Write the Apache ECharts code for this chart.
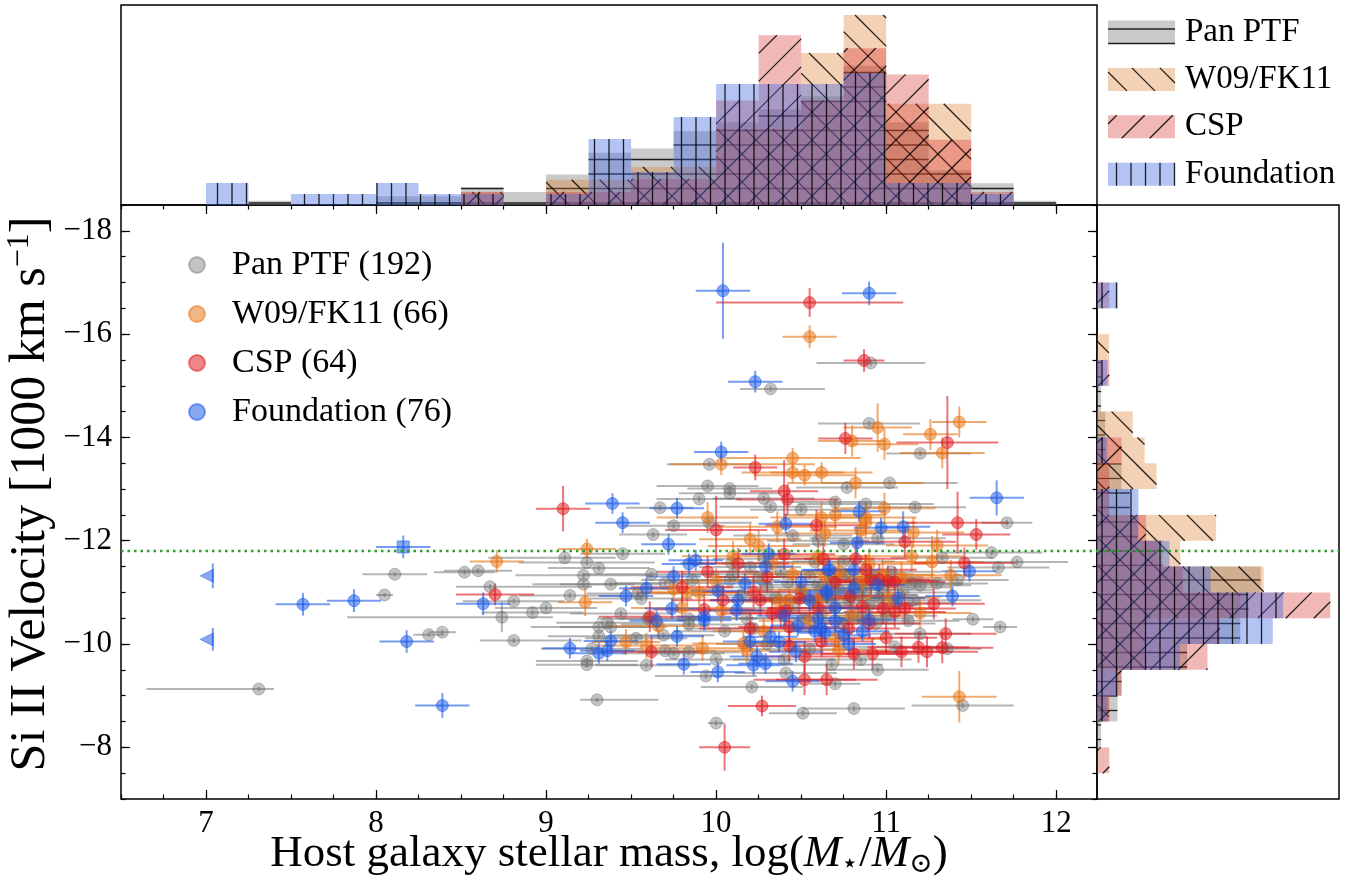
<!DOCTYPE html>
<html>
<head>
<meta charset="utf-8">
<script src="https://cdn.jsdelivr.net/npm/echarts@6/dist/echarts.min.js"></script>
<style>
  html, body { margin: 0; padding: 0; background: #fff; }
  #chart { width: 1354px; height: 877px; }
</style>
</head>
<body>
<div id="chart"></div>
<script>
// ---- data ----
var xMajor = [7, 8, 9, 10, 11, 12];
var yMajor = [-18, -16, -14, -12, -10, -8];
var velThreshold = -11.8;

// mass histogram: left edges of 0.25-wide bins, counts per survey
var massBinLo = [7.0, 7.25, 7.5, 7.75, 8.0, 8.25, 8.5, 8.75, 9.0, 9.25, 9.5, 9.75, 10.0, 10.25, 10.5, 10.75, 11.0, 11.25, 11.5, 11.75];
var massPan = [0, 1, 0, 0, 2, 2, 4, 3, 7, 12, 13, 17, 19, 22, 25, 32, 19, 8, 5, 1];
var massW09 = [0, 0, 0, 0, 0, 0, 1, 0, 2, 2, 3, 3, 6, 6, 12, 15, 8, 8, 0, 0];
var massCsp = [0, 0, 0, 0, 0, 0, 1, 0, 1, 1, 2, 2, 8, 13, 8, 12, 10, 5, 1, 0];
var massFnd = [2, 0, 1, 1, 2, 1, 1, 0, 1, 6, 3, 8, 11, 11, 11, 12, 2, 2, 1, 0];

// velocity histogram: left edges of 0.5-wide bins (1000 km/s)
var velBinLo = [-17.5, -17.0, -16.5, -16.0, -15.5, -15.0, -14.5, -14.0, -13.5, -13.0, -12.5, -12.0, -11.5, -11.0, -10.5, -10.0, -9.5, -9.0, -8.5, -8.0];
var velPan = [0, 0, 0, 0, 1, 1, 2, 2, 6, 8, 10, 16, 40, 37, 35, 22, 6, 5, 1, 0];
var velW09 = [0, 0, 0, 1, 0, 0, 3, 4, 5, 1, 10, 7, 14, 12, 4, 4, 0, 1, 0, 0];
var velCsp = [0, 1, 0, 0, 1, 0, 0, 2, 1, 1, 4, 5, 7, 19, 10, 9, 2, 1, 0, 1];
var velFnd = [0, 2, 0, 0, 1, 0, 0, 1, 0, 4, 4, 7, 11, 18, 17, 8, 2, 1, 0, 0];

var nPan = 192, nW09 = 66, nCsp = 64, nFnd = 76;

// scatter rows: [logM, v, xerr-, xerr+, verr]
var panPTF = [
  [7.31,-9.13,0.66,0.09,0.04],[8.11,-11.35,0.19,0.19,0.04],[8.05,-10.95,0.05,0.05,0.04],[8.31,-10.18,0.09,0.09,0.04],
  [8.39,-10.23,0.08,0.08,0.04],[8.52,-11.39,0.18,0.18,0.05],[8.60,-11.42,0.2,0.2,0.05],[8.67,-11.11,0.2,0.6,0.05],
  [8.81,-10.83,0.3,0.3,0.05],[8.92,-10.61,0.3,0.3,0.05],[8.74,-10.52,0.91,0.3,0.29],[8.81,-10.07,0.2,0.4,0.05],
  [9.30,-8.92,0.10,0.36,0.04],[9.96,-13.48,0.25,0.25,0.05],[9.95,-13.06,0.3,0.3,0.05],[10.08,-13.01,0.25,0.25,0.05],
  [10.08,-12.92,0.3,0.3,0.05],[9.90,-12.81,0.25,0.25,0.05],[10.28,-12.82,0.3,0.3,0.05],[10.32,-12.66,0.3,0.3,0.05],
  [9.67,-12.64,0.2,0.2,0.05],[9.75,-12.29,0.3,0.3,0.05],[9.63,-12.12,0.2,0.2,0.05],[9.96,-12.35,0.25,0.25,0.05],
  [9.11,-11.67,0.45,0.3,0.05],[9.45,-11.75,0.25,0.25,0.05],[9.24,-11.58,0.4,0.4,0.05],[9.31,-11.47,0.3,0.3,0.05],
  [9.22,-11.33,0.4,0.4,0.05],[9.22,-11.16,0.3,0.3,0.05],[9.38,-11.16,0.3,0.3,0.05],[9.62,-11.35,0.4,0.4,0.05],
  [9.14,-10.94,0.3,0.3,0.05],[9.00,-10.70,0.3,0.3,0.05],[9.44,-10.59,0.3,0.3,0.05],[9.54,-10.98,0.3,0.3,0.05],
  [9.56,-10.88,0.3,0.3,0.05],[9.70,-11.18,0.3,0.3,0.05],[9.86,-11.24,0.3,0.3,0.05],[9.84,-10.49,0.4,0.4,0.05],
  [9.84,-10.38,0.4,0.4,0.05],[9.60,-10.49,0.3,0.3,0.05],[9.69,-10.17,0.3,0.3,0.05],[9.31,-10.33,0.4,0.4,0.05],
  [9.36,-10.41,0.3,0.3,0.05],[9.38,-10.33,0.3,0.3,0.05],[9.31,-10.15,0.3,0.3,0.05],[9.53,-10.11,0.3,0.3,0.05],
  [9.27,-9.91,0.3,0.3,0.05],[9.24,-9.67,0.3,0.3,0.05],[9.24,-9.60,0.3,0.3,0.05],[9.59,-9.59,0.3,0.3,0.05],
  [9.70,-9.87,0.3,0.3,0.05],[9.75,-9.82,0.3,0.3,0.05],[9.84,-9.84,0.3,0.3,0.05],[9.94,-9.38,0.3,0.3,0.05],
  [10.00,-9.70,0.3,0.3,0.05],[10.21,-9.17,0.3,0.3,0.05],[10.41,-9.44,0.3,0.3,0.05],[10.08,-11.24,0.3,0.3,0.05],
  [10.09,-11.57,0.3,0.3,0.05],[10.20,-11.49,0.3,0.3,0.05],[10.58,-11.59,0.3,0.3,0.05],[10.91,-15.44,0.32,0.32,0.05],
  [10.32,-14.94,0.18,0.32,0.05],[10.90,-14.27,0.3,0.3,0.05],[11.20,-13.69,0.2,0.3,0.05],[10.77,-13.03,0.3,0.3,0.05],
  [11.02,-13.12,0.4,0.4,0.05],[11.71,-12.35,0.15,0.15,0.05],[10.88,-12.71,0.4,0.4,0.05],[11.17,-12.65,0.3,0.3,0.05],
  [10.75,-11.93,0.3,0.3,0.05],[11.62,-11.77,0.3,0.3,0.05],[11.77,-11.59,0.3,0.3,0.05],[11.66,-11.48,0.3,0.3,0.05],
  [11.33,-11.67,0.3,0.3,0.05],[11.42,-11.24,0.3,0.3,0.05],[11.30,-11.17,0.3,0.3,0.05],[11.20,-11.14,0.3,0.3,0.05],
  [11.15,-11.17,0.3,0.3,0.05],[11.51,-10.48,0.12,0.12,0.05],[11.67,-10.33,0.1,0.1,0.05],[11.36,-9.91,0.2,0.2,0.05],
  [11.45,-8.81,0.3,0.3,0.05],[10.70,-9.23,0.15,0.15,0.05],[10.81,-8.75,0.3,0.3,0.05],[10.00,-8.47,0.05,0.05,0.05],
  [10.51,-8.66,0.2,0.2,0.05],
  [10.25,-11.30,0.3,0.3,0.05],[10.30,-11.10,0.35,0.35,0.05],[10.35,-10.90,0.3,0.3,0.05],[10.38,-11.40,0.4,0.4,0.05],
  [10.42,-11.20,0.3,0.3,0.05],[10.45,-10.70,0.35,0.35,0.05],[10.50,-11.00,0.3,0.3,0.05],[10.52,-10.50,0.4,0.4,0.05],
  [10.55,-11.30,0.3,0.3,0.05],[10.57,-10.80,0.25,0.25,0.05],[10.60,-11.15,0.35,0.35,0.05],[10.62,-10.60,0.3,0.3,0.05],
  [10.66,-10.90,0.4,0.4,0.05],[10.68,-11.20,0.3,0.3,0.05],[10.70,-10.70,0.3,0.3,0.05],[10.72,-11.05,0.35,0.35,0.05],
  [10.74,-10.40,0.3,0.3,0.05],[10.76,-11.35,0.4,0.4,0.05],[10.78,-10.85,0.3,0.3,0.05],[10.80,-10.60,0.25,0.25,0.05],
  [10.82,-11.15,0.3,0.3,0.05],[10.84,-10.95,0.35,0.35,0.05],[10.86,-10.50,0.3,0.3,0.05],[10.88,-11.05,0.4,0.4,0.05],
  [10.90,-10.75,0.3,0.3,0.05],[10.92,-11.30,0.3,0.3,0.05],[10.94,-10.40,0.35,0.35,0.05],[10.96,-10.90,0.3,0.3,0.05],
  [10.98,-11.10,0.4,0.4,0.05],[11.00,-10.55,0.3,0.3,0.05],[11.03,-11.40,0.3,0.3,0.05],[11.06,-10.80,0.35,0.35,0.05],
  [11.10,-11.00,0.3,0.3,0.05],[11.13,-10.45,0.3,0.3,0.05],[11.16,-10.85,0.4,0.4,0.05],[10.15,-10.95,0.3,0.3,0.05],
  [10.18,-10.50,0.35,0.35,0.05],[10.10,-11.35,0.3,0.3,0.05],[10.05,-10.25,0.3,0.3,0.05],[10.22,-10.30,0.4,0.4,0.05],
  [10.30,-10.00,0.3,0.3,0.05],[10.40,-9.70,0.3,0.3,0.05],[10.55,-9.90,0.35,0.35,0.05],[10.68,-9.60,0.3,0.3,0.05],
  [10.85,-9.70,0.3,0.3,0.05],[10.95,-9.50,0.3,0.3,0.05],[11.05,-9.95,0.35,0.35,0.05],[11.20,-10.20,0.3,0.3,0.05],
  [10.60,-12.00,0.3,0.3,0.05],[10.45,-12.10,0.35,0.35,0.05],[10.70,-12.75,0.3,0.3,0.05],[10.50,-12.60,0.3,0.3,0.05],
  [10.95,-12.05,0.4,0.4,0.05],[10.28,-11.65,0.3,0.3,0.05],[10.75,-11.60,0.3,0.3,0.05]
];
var w09fk11 = [
  [8.71,-11.60,0.16,0.16,0.22],[9.24,-11.84,0.17,0.17,0.2],[9.23,-10.81,0.16,0.16,0.27],[10.55,-15.95,0.16,0.16,0.22],
  [10.03,-13.48,0.3,0.55,0.21],[10.45,-13.60,0.4,0.4,0.2],[10.45,-13.32,0.3,0.3,0.2],[10.52,-13.27,0.3,0.3,0.2],
  [10.62,-13.32,0.3,0.3,0.2],[10.20,-12.03,0.3,0.3,0.3],[10.36,-12.27,0.35,0.35,0.3],[9.75,-11.06,0.3,0.3,0.25],
  [9.83,-11.00,0.3,0.3,0.25],[9.90,-11.00,0.3,0.3,0.25],[10.00,-11.22,0.3,0.3,0.25],[10.33,-11.56,0.3,0.3,0.25],
  [10.03,-10.65,0.3,0.3,0.25],[9.66,-10.35,0.3,0.3,0.25],[9.47,-10.04,0.2,0.2,0.25],[9.59,-9.97,0.3,0.3,0.25],
  [9.92,-9.92,0.3,0.3,0.25],[10.16,-10.01,0.3,0.3,0.25],[10.18,-9.87,0.3,0.3,0.25],[10.37,-10.82,0.3,0.3,0.25],
  [10.43,-10.85,0.3,0.3,0.25],[10.61,-10.88,0.3,0.3,0.25],[10.64,-11.30,0.3,0.3,0.25],[10.64,-12.14,0.3,0.3,0.25],
  [10.95,-14.19,0.2,0.2,0.47],[10.80,-13.93,0.2,0.2,0.3],[10.99,-13.87,0.2,0.2,0.3],[11.43,-14.30,0.16,0.16,0.3],
  [11.26,-14.06,0.16,0.16,0.3],[11.33,-13.70,0.25,0.25,0.3],[10.82,-13.12,0.4,0.4,0.3],[10.99,-12.63,0.3,0.3,0.3],
  [10.70,-12.50,0.3,0.3,0.3],[10.62,-12.45,0.3,0.3,0.3],[10.88,-12.45,0.3,0.3,0.3],[10.88,-12.35,0.3,0.3,0.3],
  [11.16,-12.16,0.3,0.3,0.3],[11.30,-11.91,0.3,0.3,0.3],[11.27,-11.59,0.3,0.3,0.5],[11.38,-11.33,0.3,0.3,0.3],
  [11.09,-11.29,0.3,0.3,0.3],[10.98,-11.34,0.3,0.3,0.3],[10.86,-11.19,0.3,0.3,0.3],[10.72,-9.88,0.3,0.3,0.3],
  [11.43,-8.98,0.22,0.22,0.5],
  [10.50,-11.05,0.3,0.3,0.25],[10.72,-11.40,0.3,0.3,0.25],[10.90,-11.55,0.35,0.35,0.3],[10.55,-10.45,0.3,0.3,0.25],
  [10.80,-10.55,0.3,0.3,0.25],[11.02,-10.90,0.3,0.3,0.3],[10.28,-10.25,0.3,0.3,0.25],[10.60,-11.70,0.3,0.3,0.3],
  [9.95,-12.45,0.3,0.3,0.3],[10.70,-10.10,0.3,0.3,0.25],[11.15,-11.70,0.3,0.3,0.3],[10.10,-11.70,0.3,0.3,0.3],
  [10.45,-11.35,0.3,0.3,0.25],[10.85,-12.20,0.3,0.3,0.3],[10.25,-11.90,0.3,0.3,0.3],[11.20,-10.60,0.3,0.3,0.3],
  [9.80,-10.70,0.3,0.3,0.25]
];
var csp = [
  [10.55,-16.61,0.55,0.55,0.28],[10.87,-15.49,0.12,0.12,0.22],[10.23,-13.42,0.13,0.13,0.25],[10.40,-12.96,0.2,0.2,0.6],
  [10.42,-12.80,0.3,0.3,0.3],[9.10,-12.62,0.16,0.16,0.44],[10.00,-12.21,0.3,0.3,0.66],[10.59,-12.30,0.3,0.3,0.3],
  [8.70,-10.96,0.23,0.23,0.21],[9.95,-11.40,0.3,0.3,0.3],[10.13,-11.56,0.3,0.3,0.3],[10.40,-11.74,0.3,0.3,0.3],
  [10.63,-11.65,0.3,0.3,0.3],[10.22,-11.01,0.3,0.3,0.3],[10.26,-10.85,0.3,0.3,0.3],[10.04,-10.85,0.3,0.3,0.3],
  [9.93,-10.67,0.3,0.3,0.3],[9.61,-10.53,0.3,0.3,0.3],[9.62,-9.85,0.3,0.3,0.3],[10.27,-8.80,0.2,0.2,0.2],
  [10.52,-9.31,0.3,0.3,0.3],[10.65,-9.31,0.3,0.3,0.3],[10.52,-9.76,0.3,0.3,0.3],[10.43,-9.96,0.3,0.3,0.3],
  [10.43,-10.33,0.3,0.3,0.3],[10.33,-10.59,0.3,0.3,0.3],[10.38,-10.60,0.3,0.3,0.3],[10.41,-10.65,0.3,0.3,0.3],
  [10.49,-10.88,0.3,0.3,0.3],[10.76,-13.98,0.16,0.16,0.3],[11.36,-13.90,0.3,0.3,0.9],[11.42,-12.35,0.3,0.3,0.6],
  [11.53,-12.12,0.2,0.2,0.3],[11.11,-11.98,0.3,0.3,0.3],[11.46,-11.57,0.3,0.3,0.3],[11.28,-10.78,0.3,0.3,0.3],
  [11.35,-10.20,0.3,0.3,0.3],[10.81,-9.81,0.3,0.3,0.3],[10.92,-9.81,0.3,0.3,0.3],[11.09,-9.85,0.3,0.3,0.3],
  [11.19,-9.94,0.3,0.3,0.3],[11.24,-9.85,0.3,0.3,0.3],[11.33,-9.93,0.3,0.3,0.3],[11.00,-10.12,0.3,0.3,0.3],
  [10.88,-11.44,0.3,0.3,0.3],[10.91,-11.25,0.3,0.3,0.3],[10.96,-11.25,0.3,0.3,0.3],[11.01,-11.22,0.3,0.3,0.3],
  [11.05,-11.20,0.3,0.3,0.3],[10.79,-10.93,0.3,0.3,0.3],[10.98,-10.69,0.3,0.3,0.3],[11.05,-10.62,0.3,0.3,0.3],
  [11.11,-10.69,0.3,0.3,0.3],[10.86,-10.73,0.3,0.3,0.3],[10.78,-10.30,0.3,0.3,0.3],[10.05,-8.00,0.15,0.15,0.45],
  [10.60,-10.70,0.3,0.3,0.3],[10.70,-11.20,0.3,0.3,0.3],[10.30,-11.30,0.3,0.3,0.3],[10.90,-10.40,0.3,0.3,0.3],
  [10.62,-10.05,0.3,0.3,0.3],[10.20,-10.30,0.3,0.3,0.3],[10.82,-11.65,0.3,0.3,0.3],[9.80,-11.10,0.3,0.3,0.3]
];
var foundation = [
  [10.04,-16.84,0.16,0.16,0.93],[10.90,-16.79,0.16,0.16,0.23],[10.23,-15.08,0.16,0.16,0.21],[7.57,-10.77,0.16,0.16,0.22],
  [7.87,-10.84,0.16,0.16,0.22],[8.18,-10.05,0.16,0.16,0.22],[8.39,-8.81,0.16,0.16,0.24],[8.63,-10.78,0.16,0.16,0.22],
  [10.03,-13.72,0.16,0.16,0.2],[9.39,-12.72,0.16,0.16,0.2],[9.45,-12.35,0.16,0.16,0.2],[9.77,-12.63,0.16,0.16,0.2],
  [9.72,-11.93,0.16,0.16,0.2],[10.41,-12.33,0.16,0.16,0.2],[9.47,-10.93,0.16,0.16,0.2],[9.59,-11.08,0.16,0.16,0.2],
  [9.75,-11.31,0.16,0.16,0.2],[9.84,-11.55,0.16,0.16,0.2],[9.88,-11.62,0.16,0.16,0.2],[9.74,-10.69,0.16,0.16,0.2],
  [10.01,-11.03,0.16,0.16,0.2],[10.29,-11.50,0.16,0.16,0.2],[10.31,-11.75,0.16,0.16,0.2],[10.17,-11.17,0.16,0.16,0.2],
  [10.13,-10.85,0.16,0.16,0.2],[10.12,-10.65,0.16,0.16,0.2],[9.93,-10.53,0.16,0.16,0.2],[9.93,-10.46,0.16,0.16,0.2],
  [9.77,-10.15,0.16,0.16,0.2],[9.38,-10.06,0.16,0.16,0.2],[9.31,-9.82,0.16,0.16,0.2],[9.36,-9.87,0.16,0.16,0.2],
  [9.14,-9.92,0.16,0.16,0.2],[9.81,-9.61,0.16,0.16,0.2],[10.01,-9.46,0.16,0.16,0.2],[10.24,-9.76,0.16,0.16,0.2],
  [10.22,-9.59,0.16,0.16,0.2],[10.29,-9.62,0.16,0.16,0.2],[10.45,-9.28,0.16,0.16,0.2],[10.47,-9.85,0.16,0.16,0.2],
  [10.32,-10.14,0.16,0.16,0.2],[10.37,-10.04,0.16,0.16,0.2],[10.48,-10.36,0.16,0.16,0.2],[10.65,-10.98,0.16,0.16,0.2],
  [10.58,-10.25,0.16,0.16,0.2],[10.62,-10.30,0.16,0.16,0.2],[10.64,-10.22,0.16,0.16,0.2],[10.66,-11.43,0.16,0.16,0.2],
  [11.65,-12.83,0.16,0.16,0.34],[10.84,-12.57,0.16,0.16,0.2],[10.97,-12.25,0.16,0.16,0.2],[11.10,-12.27,0.16,0.16,0.3],
  [10.83,-11.96,0.16,0.16,0.3],[11.49,-11.41,0.16,0.16,0.2],[11.39,-10.93,0.16,0.16,0.2],[10.67,-11.44,0.16,0.16,0.2],
  [10.81,-11.44,0.16,0.16,0.2],[11.07,-10.89,0.16,0.16,0.2],[10.81,-11.08,0.16,0.16,0.2],[10.65,-11.02,0.16,0.16,0.2],
  [10.90,-10.47,0.16,0.16,0.2],[10.86,-10.25,0.16,0.16,0.2],[10.75,-10.17,0.16,0.16,0.2],[10.60,-10.50,0.16,0.16,0.2],
  [10.70,-10.45,0.16,0.16,0.2],
  [10.55,-10.85,0.16,0.16,0.2],[10.40,-10.55,0.16,0.16,0.2],[10.70,-10.70,0.16,0.16,0.2],[10.50,-11.20,0.16,0.16,0.2],
  [10.78,-10.00,0.16,0.16,0.2],[10.20,-10.05,0.16,0.16,0.2],[10.95,-11.15,0.16,0.16,0.2],[9.65,-10.45,0.16,0.16,0.2]
];
var foundationSquare = [[8.16,-11.88,0.16,0.16,0.22]];
var foundationLimits = [[7.04,-11.32,0,0,0.24],[7.04,-10.09,0,0,0.22]];

// ---- layout / style ----
var FONT = "'Liberation Serif','DejaVu Serif',serif";
var MAIN = {left: 121, top: 205, width: 976, height: 594};
var TOPH = {left: 121, top: 5, width: 976, height: 200};
var SIDE = {left: 1097, top: 205, width: 242, height: 594};
var X_MIN = 6.5, X_MAX = 12.24, Y_MIN = -18.5, Y_MAX = -7;
var TOP_MAX = 0.957, SIDE_MAX = 0.616;

var HIST = {
  pan: {fill: 'rgba(128,128,128,0.42)', hatch: '-'},
  w09: {fill: 'rgba(222,122,40,0.35)', hatch: '\\'},
  csp: {fill: 'rgba(214,39,40,0.33)', hatch: '/'},
  fnd: {fill: 'rgba(65,105,225,0.40)', hatch: '|'}
};
var PT = {
  pan: {dot: 'rgba(105,105,105,0.5)', bar: 'rgba(120,120,120,0.55)'},
  w09: {dot: 'rgba(230,115,20,0.65)', bar: 'rgba(230,115,20,0.6)'},
  csp: {dot: 'rgba(222,25,30,0.65)', bar: 'rgba(222,25,30,0.6)'},
  fnd: {dot: 'rgba(25,90,230,0.65)', bar: 'rgba(25,90,230,0.6)'}
};

function minus(v) { return v < 0 ? '\u2212' + (-v) : String(v); }
function steps(a, b, s) { var out = []; for (var k = 0; a + k * s <= b + 1e-9; k++) out.push(+(a + k * s).toFixed(3)); return out; }
var xMinor = steps(X_MIN, 12.0, 0.25);
var yMinor = steps(Y_MIN, Y_MAX, 0.5);

// hatch segments clipped to a rect, anchored to the canvas
function hatchSegs(x, y, w, h, kind) {
  var out = [], k, c, xa, xb, s;
  if (kind === '-') {
    s = 14.5;
    for (k = Math.ceil(y / s); k * s <= y + h; k++) out.push([x, k * s, x + w, k * s]);
  } else if (kind === '|') {
    s = 14.5;
    for (k = Math.ceil(x / s); k * s <= x + w; k++) out.push([k * s, y, k * s, y + h]);
  } else if (kind === '/') {
    s = 28;
    for (k = Math.ceil((x + y) / s); k * s <= x + w + y + h; k++) {
      c = k * s; xa = Math.max(x, c - (y + h)); xb = Math.min(x + w, c - y);
      if (xb > xa) out.push([xa, c - xa, xb, c - xb]);
    }
  } else {
    s = 28;
    for (k = Math.ceil((x - y - h) / s); k * s <= x + w - y; k++) {
      c = k * s; xa = Math.max(x, c + y); xb = Math.min(x + w, c + y + h);
      if (xb > xa) out.push([xa, xa - c, xb, xb - c]);
    }
  }
  return out;
}

function hatchedRect(x, y, w, h, st) {
  var children = [{type: 'rect', shape: {x: x, y: y, width: w, height: h}, style: {fill: st.fill}}];
  hatchSegs(x, y, w, h, st.hatch).forEach(function (s) {
    children.push({type: 'line', shape: {x1: s[0], y1: s[1], x2: s[2], y2: s[3]}, style: {stroke: 'rgba(0,0,0,0.85)', lineWidth: 1.3}});
  });
  return {type: 'group', children: children};
}

function histRows(lo, width, counts, total) {
  return counts.map(function (c, i) { return [lo[i], lo[i] + width, c / (total * width)]; });
}

function topHist(name, rows, st) {
  return {
    type: 'custom', name: name, xAxisIndex: 4, yAxisIndex: 4, data: rows, silent: true,
    encode: {x: [0, 1], y: 2},
    renderItem: function (params, api) {
      var dens = api.value(2);
      if (!dens) return null;
      var a = api.coord([api.value(0), 0]), b = api.coord([api.value(1), dens]);
      return hatchedRect(a[0], b[1], b[0] - a[0], a[1] - b[1], st);
    }
  };
}

function sideHist(name, rows, st) {
  return {
    type: 'custom', name: name, xAxisIndex: 5, yAxisIndex: 5, data: rows, silent: true,
    encode: {x: 2, y: [0, 1]},
    renderItem: function (params, api) {
      var dens = api.value(2);
      if (!dens) return null;
      var a = api.coord([0, api.value(0)]), b = api.coord([dens, api.value(1)]);
      var y0 = Math.min(a[1], b[1]);
      return hatchedRect(a[0], y0, b[0] - a[0], Math.abs(b[1] - a[1]), st);
    }
  };
}

function errBars(rows, color) {
  return {
    type: 'custom', xAxisIndex: 0, yAxisIndex: 0, data: rows, silent: true, clip: true,
    encode: {x: 0, y: 1},
    renderItem: function (params, api) {
      var x = api.value(0), y = api.value(1);
      var l = api.coord([x - api.value(2), y]), r = api.coord([x + api.value(3), y]);
      var t = api.coord([x, y - api.value(4)]), b = api.coord([x, y + api.value(4)]);
      var st = {stroke: color, lineWidth: 2};
      return {type: 'group', children: [
        {type: 'line', shape: {x1: l[0], y1: l[1], x2: r[0], y2: r[1]}, style: st},
        {type: 'line', shape: {x1: t[0], y1: t[1], x2: b[0], y2: b[1]}, style: st}
      ]};
    }
  };
}

function dots(name, rows, color, extra) {
  var s = {
    type: 'scatter', name: name, xAxisIndex: 0, yAxisIndex: 0, data: rows,
    encode: {x: 0, y: 1}, symbol: 'circle', symbolSize: 12,
    itemStyle: {color: color, borderColor: color, borderWidth: 1}
  };
  for (var key in extra) s[key] = extra[key];
  return s;
}

function tickAxis(dim, pos, vals, len, labels, extra) {
  var ax = {
    type: 'value', gridIndex: 0, position: pos,
    min: dim === 'x' ? X_MIN : Y_MIN, max: dim === 'x' ? X_MAX : Y_MAX,
    inverse: dim === 'y',
    axisLine: {show: false, onZero: false},
    splitLine: {show: false},
    axisTick: {show: true, inside: true, length: len, customValues: vals, lineStyle: {color: '#000', width: 1.2}},
    axisLabel: labels ? {
      show: true, customValues: vals, fontFamily: FONT, fontSize: 31, color: '#000', margin: 9,
      formatter: function (v) { return minus(v); }
    } : {show: false}
  };
  for (var key in extra) ax[key] = extra[key];
  return ax;
}

var legendItems = [
  {label: 'Pan PTF', st: HIST.pan},
  {label: 'W09/FK11', st: HIST.w09},
  {label: 'CSP', st: HIST.csp},
  {label: 'Foundation', st: HIST.fnd}
];
var legendGraphics = [];
legendItems.forEach(function (it, i) {
  var cy = 32 + i * 47.4;
  legendGraphics.push(hatchedRect(1108, cy - 11.5, 67, 23, it.st));
  legendGraphics.push({type: 'text', x: 1185, y: cy, style: {text: it.label, font: '33px ' + FONT, fill: '#000', textVerticalAlign: 'middle', verticalAlign: 'middle'}});
});

var gridBase = {show: true, borderColor: '#000', borderWidth: 1.5, backgroundColor: 'transparent', containLabel: false, outerBoundsMode: 'none'};
function gridAt(box) {
  var g = {left: box.left, top: box.top, width: box.width, height: box.height};
  for (var key in gridBase) g[key] = gridBase[key];
  return g;
}

var chart = echarts.init(document.getElementById('chart'), null, {renderer: 'canvas'});
chart.setOption({
  animation: false,
  backgroundColor: '#fff',
  grid: [gridAt(MAIN), gridAt(TOPH), gridAt(SIDE)],
  xAxis: [
    tickAxis('x', 'bottom', xMajor, 9, true, {
      name: '{n|Host galaxy stellar mass, log(}{i|M}{s|\u22c6}{n|/}{i|M}{s|\u2299}{n|)}',
      nameLocation: 'middle', nameGap: 30, nameMoveOverlap: false,
      nameTextStyle: {
        fontFamily: FONT, color: '#000',
        rich: {
          n: {fontFamily: FONT, fontSize: 45, color: '#000'},
          i: {fontFamily: FONT, fontSize: 45, fontStyle: 'italic', color: '#000'},
          s: {fontFamily: FONT, fontSize: 28, color: '#000', verticalAlign: 'bottom', lineHeight: 50}
        }
      }
    }),
    tickAxis('x', 'bottom', xMinor, 4.5, false),
    tickAxis('x', 'top', xMajor, 9, false),
    tickAxis('x', 'top', xMinor, 4.5, false),
    {type: 'value', gridIndex: 1, min: X_MIN, max: X_MAX, show: false},
    {type: 'value', gridIndex: 2, min: 0, max: SIDE_MAX, show: false}
  ],
  yAxis: [
    tickAxis('y', 'left', yMajor, 9, true, {
      name: '{n|Si II Velocity [1000 km s}{p|\u22121}{n|]}',
      nameLocation: 'middle', nameGap: 63, nameRotate: 90, nameMoveOverlap: false,
      nameTextStyle: {
        fontFamily: FONT, color: '#000', padding: [0, 0, 0, 16],
        rich: {
          n: {fontFamily: FONT, fontSize: 50, color: '#000'},
          p: {fontFamily: FONT, fontSize: 32, color: '#000', verticalAlign: 'top', lineHeight: 54}
        }
      }
    }),
    tickAxis('y', 'left', yMinor, 4.5, false),
    tickAxis('y', 'right', yMajor, 9, false),
    tickAxis('y', 'right', yMinor, 4.5, false),
    {type: 'value', gridIndex: 1, min: 0, max: TOP_MAX, show: false},
    {type: 'value', gridIndex: 2, min: Y_MIN, max: Y_MAX, inverse: true, show: false}
  ],
  legend: {
    data: ['Pan PTF (192)', 'W09/FK11 (66)', 'CSP (64)', 'Foundation (76)'],
    orient: 'vertical', left: 183, top: 243,
    icon: 'circle', itemWidth: 60, itemHeight: 16, itemGap: 15,
    textStyle: {fontFamily: FONT, fontSize: 34, color: '#000', lineHeight: 30},
    selectedMode: false
  },
  graphic: legendGraphics,
  series: [
    topHist('hPan', histRows(massBinLo, 0.25, massPan, nPan), HIST.pan),
    topHist('hW09', histRows(massBinLo, 0.25, massW09, nW09), HIST.w09),
    topHist('hCsp', histRows(massBinLo, 0.25, massCsp, nCsp), HIST.csp),
    topHist('hFnd', histRows(massBinLo, 0.25, massFnd, nFnd), HIST.fnd),
    sideHist('vPan', histRows(velBinLo, 0.5, velPan, nPan), HIST.pan),
    sideHist('vW09', histRows(velBinLo, 0.5, velW09, nW09), HIST.w09),
    sideHist('vCsp', histRows(velBinLo, 0.5, velCsp, nCsp), HIST.csp),
    sideHist('vFnd', histRows(velBinLo, 0.5, velFnd, nFnd), HIST.fnd),
    errBars(panPTF, PT.pan.bar),
    dots('Pan PTF (192)', panPTF, PT.pan.dot),
    errBars(w09fk11, PT.w09.bar),
    dots('W09/FK11 (66)', w09fk11, PT.w09.dot),
    errBars(csp, PT.csp.bar),
    dots('CSP (64)', csp, PT.csp.dot),
    errBars(foundation.concat(foundationSquare, foundationLimits), PT.fnd.bar),
    dots('Foundation (76)', foundation, PT.fnd.dot),
    dots('Foundation (76)', foundationSquare, PT.fnd.dot, {symbol: 'rect', symbolSize: 12}),
    dots('Foundation (76)', foundationLimits, PT.fnd.dot, {symbol: 'triangle', symbolSize: [13, 13], symbolRotate: 90, symbolOffset: [-6, 0]}),
    {
      type: 'line', xAxisIndex: 0, yAxisIndex: 0, silent: true, symbol: 'none', z: 5,
      data: [[X_MIN, velThreshold], [X_MAX, velThreshold]],
      lineStyle: {color: '#2ca02c', width: 2.5, type: [2.5, 4]}
    },
    {
      type: 'line', xAxisIndex: 5, yAxisIndex: 5, silent: true, symbol: 'none', z: 5,
      data: [[0, velThreshold], [SIDE_MAX, velThreshold]],
      lineStyle: {color: '#2ca02c', width: 2.5, type: [2.5, 4]}
    }
  ]
});
</script>
</body>
</html>
